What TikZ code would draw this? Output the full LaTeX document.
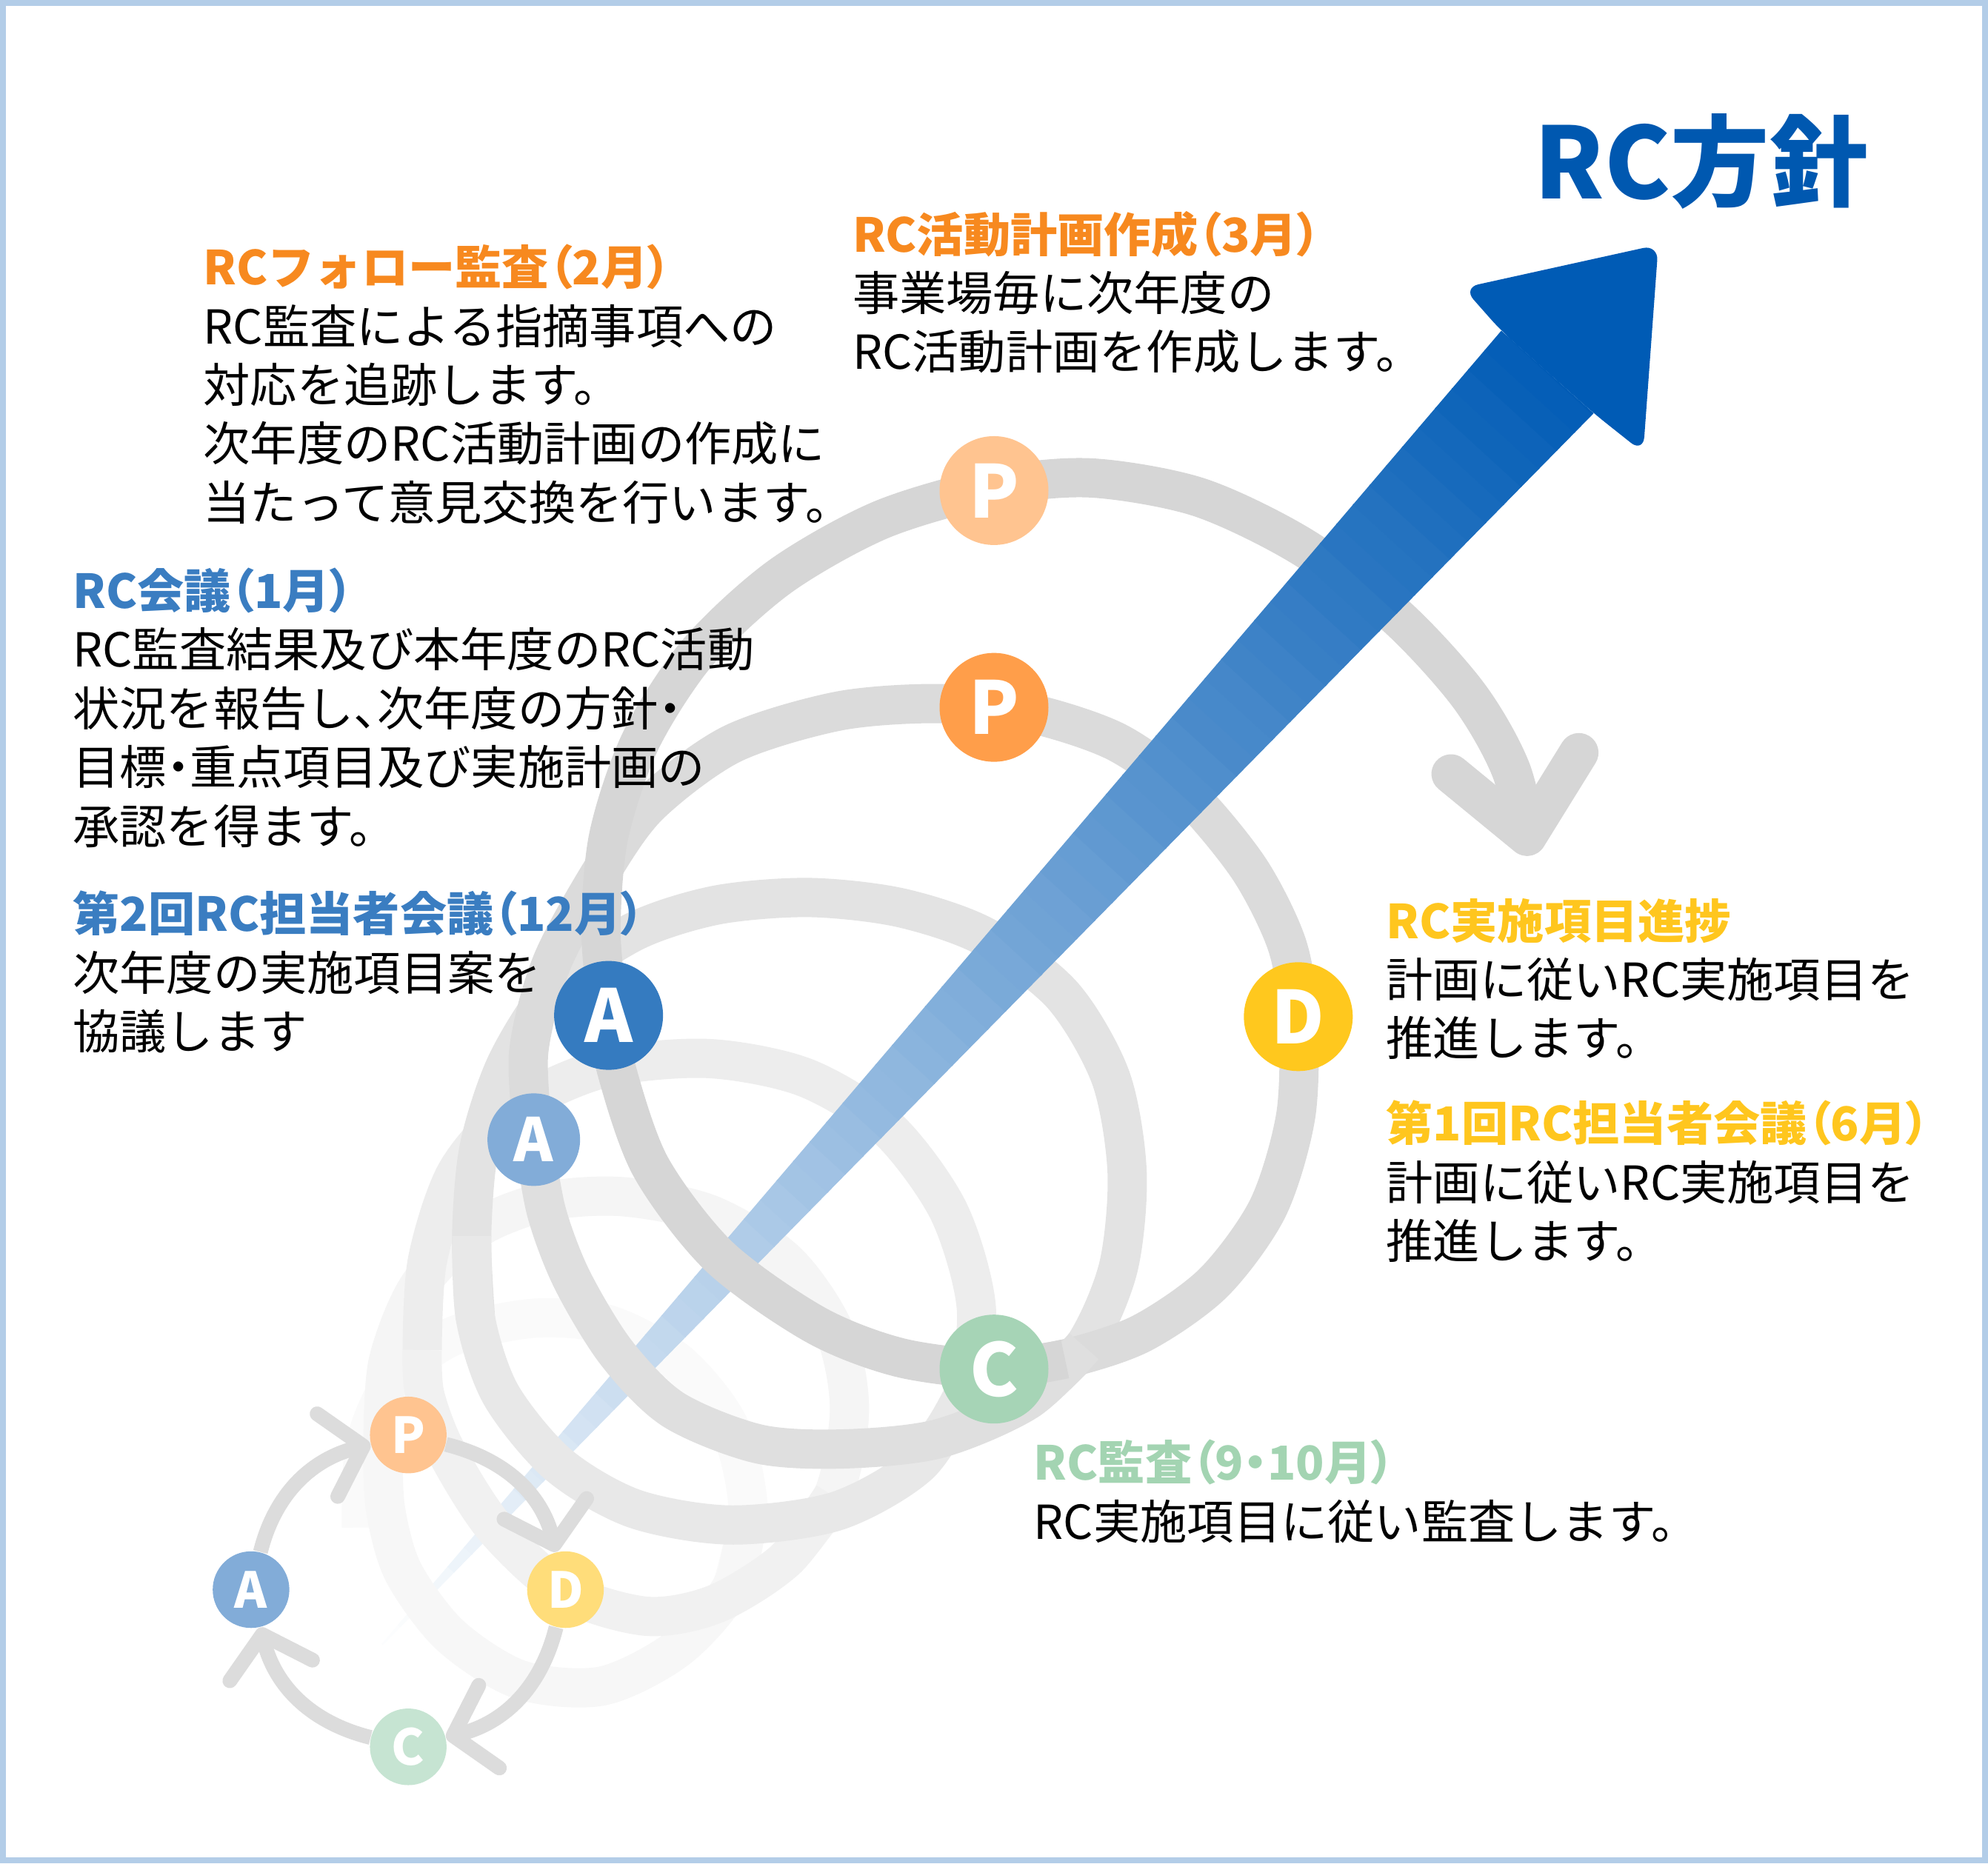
\documentclass[tikz,border=0pt]{standalone}
\usepackage{fontspec}
\setmainfont{Noto Sans CJK JP}
\usetikzlibrary{arrows.meta}
\definecolor{frameblue}{HTML}{B3CDE8}
\definecolor{titleblue}{HTML}{0058B0}
\definecolor{rcblue}{HTML}{005BB5}
\definecolor{hdorange}{HTML}{F7891F}
\definecolor{hdblue}{HTML}{3A7DC1}
\definecolor{hdyellow}{HTML}{FFC61E}
\definecolor{hdgreen}{HTML}{A3D4B2}
\definecolor{pLight}{HTML}{FFC490}
\definecolor{pDark}{HTML}{FF9E4A}
\definecolor{dFill}{HTML}{FFC81E}
\definecolor{dLight}{HTML}{FFDD7A}
\definecolor{cFill}{HTML}{A6D4B6}
\definecolor{cLight}{HTML}{C6E4D2}
\definecolor{aDark}{HTML}{357BC0}
\definecolor{aLight}{HTML}{82ACD8}
\definecolor{cycgrey}{HTML}{DCDCDC}
\newcommand{\rchead}[2]{\textbf{\color{#1}#2}}
\newcommand{\pl}[1]{{\addfontfeature{RawFeature=+palt}#1}}

\begin{document}
\begin{tikzpicture}[x=0.017117cm, y=-0.017117cm,
    ring/.style={line width=0.53cm, line cap=butt, line join=round},
    txt/.style={anchor=base west, align=left, inner sep=0pt, font=\fontsize{18pt}{22.6pt}\selectfont},
    pdca/.style={circle, inner sep=0pt, text=white, minimum size=1.47cm, font=\bfseries\fontsize{28pt}{28pt}\selectfont},
    mini/.style={pdca, minimum size=1.035cm, font=\bfseries\fontsize{19pt}{19pt}\selectfont},
    cyc/.style={draw=cycgrey, line width=0.2cm, -{Straight Barb[length=0.5cm, width=1.15cm, line cap=round, line join=round]}}]
    \useasboundingbox (0,0) rectangle (1568,1470);
    \draw[frameblue, line width=0.08cm] (2.4,2.4) rectangle (1565.6,1467.6);

    % back halves of the spiral
    \draw[ring, black!2] plot[smooth] coordinates {(285,1205) (288,1140) (310,1090) (355,1055) (420,1040) (480,1045) (535,1075) (575,1125) (590,1190) (578,1250)};
    \draw[ring, black!4] plot[smooth] coordinates {(302,1140) (306,1075) (330,1015) (375,970) (430,948) (491,944) (560,958) (620,995) (658,1050) (670,1112) (657,1180) (620,1230)};
    \draw[ring, black!7] plot[smooth] coordinates {(333,1065) (337,995) (360,925) (405,875) (475,843) (558,835) (635,850) (700,890) (748,955) (770,1031) (760,1100) (725,1155)};
    \draw[ring, black!11] plot[smooth] coordinates {(375,1040) (372,975) (378,905) (400,838) (440,777) (500,735) (565,714) (638,708) (710,716) (777,739) (838,785) (876,850) (889,925) (882,1000) (855,1062) (810,1105)};
    \draw[ring, black!14] plot[smooth] coordinates {(421,899) (417,830) (435,760) (474,688) (512,635) (577,587) (661,561) (740,555) (810,562) (880,585) (935,625) (985,685) (1015,745) (1024,802) (1022,880) (1000,953) (957,1012) (900,1052) (840,1072) (784,1080)};
    \draw[ring, black!16, -{Straight Barb[length=1cm, width=1.75cm, line cap=round, line join=round]}] plot[smooth] coordinates {(480,801) (474,735) (480,660) (505,585) (550,515) (615,455) (695,410) (784,384) (860,377) (945,392) (1025,430) (1100,485) (1158,548) (1192,608) (1207,675)};

    % policy arrow
    \begin{scope}
        \clip (288,1312) -- (1184,261) -- (1257,326) -- cycle;
        \foreach \i in {0,...,69}{
            \pgfmathsetmacro\sa{20*\i}
            \pgfmathsetmacro\sb{20*\i+21}
            \pgfmathtruncatemacro\pct{100*\i/69}
            \fill[rcblue!\pct!white] ({288+0.67488*\sa+59},{1312-0.73787*\sa+54}) -- ({288+0.67488*\sb+59},{1312-0.73787*\sb+54})
                -- ({288+0.67488*\sb-59},{1312-0.73787*\sb-54}) -- ({288+0.67488*\sa-59},{1312-0.73787*\sa-54}) -- cycle;
        }
    \end{scope}
    \fill[rcblue, rounded corners=6] (1184,261) -- (1154,227) -- (1308,193) -- (1296,357) -- (1257,326) -- cycle;

    % front halves of the spiral
    \draw[ring, black!3] plot[smooth] coordinates {(590,1190) (578,1250) (535,1300) (475,1330) (410,1325) (355,1290) (318,1240) (304,1190) (302,1140)};
    \draw[ring, black!5.5] plot[smooth] coordinates {(657,1180) (620,1230) (565,1265) (510,1275) (445,1255) (390,1205) (352,1145) (335,1100) (333,1065)};
    \draw[ring, black!9] plot[smooth] coordinates {(760,1100) (725,1155) (660,1192) (576,1203) (500,1190) (440,1155) (395,1100) (375,1040) (372,975)};
    \draw[ring, black!12.5] plot[smooth] coordinates {(855,1062) (810,1105) (740,1135) (665,1143) (598,1139) (531,1112) (486,1067) (451,1009) (431,956) (421,899)};
    \draw[ring, black!16] plot[smooth] coordinates {(840,1072) (784,1080) (710,1071) (643,1045) (567,991) (513,920) (486,843) (480,801)};

    % small cycle
    \node[mini, fill=pLight] (sP) at (322,1132) {P};
    \node[mini, fill=dLight] (sD) at (446,1254) {D};
    \node[mini, fill=cLight] (sC) at (322,1378) {C};
    \node[mini, fill=aLight] (sA) at (198,1254) {A};
    \draw[cyc] (sA) to[out=76, in=194] (sP);
    \draw[cyc] (sP) to[out=-14, in=104] (sD);
    \draw[cyc] (sD) to[out=-104, in=14] (sC);
    \draw[cyc] (sC) to[out=166, in=-76] (sA);

    % big cycle
    \node[pdca, fill=pLight] (pTop) at (784,387) {P};
    \node[pdca, fill=pDark] (pMid) at (784,558) {P};
    \node[pdca, fill=dFill] (dMid) at (1024,802) {D};
    \node[pdca, fill=cFill] (cMid) at (784,1080) {C};
    \node[pdca, fill=aDark] (aBig) at (480,801) {A};
    \node[pdca, fill=aLight, minimum size=1.25cm, font=\bfseries\fontsize{23pt}{23pt}\selectfont] (aSmall) at (421,899) {A};

    \node[anchor=base west, inner sep=0pt, text=titleblue, font=\bfseries\fontsize{38pt}{40pt}\selectfont] (title) at (1210,157) {RC方針};

    % text blocks, placed at the baseline of their last line
    \node[txt] (tFollow) at (160,410.3) {\rchead{hdorange}{RCフォロー監査\pl{（}2月\pl{）}}\\RC監査による指摘事項への\\対応を追跡します。\\次年度のRC活動計画の作成に\\当たって意見交換を行います。};
    \node[txt] (tPlan) at (672,291.5) {\rchead{hdorange}{RC活動計画作成\pl{（}3月\pl{）}}\\事業場毎に次年度の\\RC活動計画を作成します。};
    \node[txt] (tMeeting) at (57,665.5) {\rchead{hdblue}{RC会議\pl{（}1月\pl{）}}\\RC監査結果及び本年度のRC活動\\状況を報告し\pl{、}次年度の方針\pl{・}\\目標\pl{・}重点項目及び実施計画の\\承認を得ます。};
    \node[txt] (tSecond) at (57,827.5) {\rchead{hdblue}{第2回RC担当者会議\pl{（}12月\pl{）}}\\次年度の実施項目案を\\協議します};
    \node[txt] (tProgress) at (1093,833) {\rchead{hdyellow}{RC実施項目進捗}\\計画に従いRC実施項目を\\推進します。};
    \node[txt] (tFirst) at (1093,993) {\rchead{hdyellow}{第1回RC担当者会議\pl{（}6月\pl{）}}\\計画に従いRC実施項目を\\推進します。};
    \node[txt] (tAudit) at (815,1214) {\rchead{hdgreen}{RC監査\pl{（}9\pl{・}10月\pl{）}}\\RC実施項目に従い監査します。};
\end{tikzpicture}
\end{document}
